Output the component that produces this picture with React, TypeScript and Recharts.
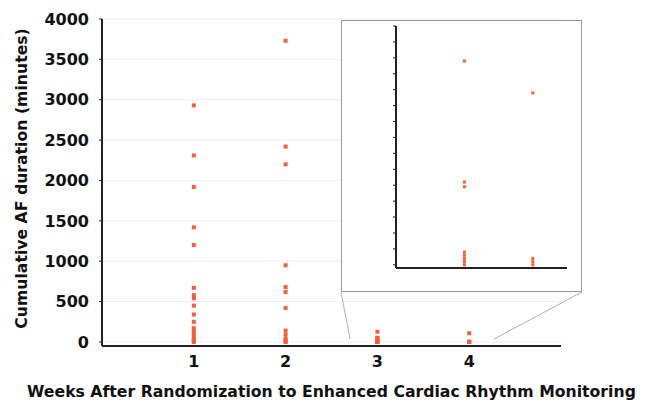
import { ScatterChart, Scatter, XAxis, YAxis, CartesianGrid, Label } from 'recharts';

// cumulative AF minutes per patient
const weeks = [1, 2, 3, 4];
const week1 = [2930, 2310, 1920, 1420, 1200, 670, 580, 540, 450, 340, 250, 170, 130, 100, 60, 30, 10, 0];
const week2 = [3730, 2420, 2200, 950, 680, 620, 420, 140, 90, 40, 10, 0];
const week3 = [128, 52, 49, 8, 6, 4, 2, 0];
const week4 = [108, 4, 2, 0];

const yTicks = [0, 500, 1000, 1500, 2000, 2500, 3000, 3500, 4000];
const insetTicks = [0, 10, 20, 30, 40, 50, 60, 70, 80, 90, 100, 110, 120, 130, 140, 150];

const byWeek = [week1, week2, week3, week4];
const points = weeks.flatMap((w, i) => byWeek[i].map((v) => ({ week: w, minutes: v })));
const insetPoints = points.filter((p) => p.week >= 3);

const DOT = '#F0603C';
const FONT = '"DejaVu Sans", sans-serif';

const Square = (props: any) => {
  const { cx, cy } = props;
  return <rect x={cx - 2} y={cy - 2} width={4} height={4} fill={DOT} />;
};

const SmallSquare = (props: any) => {
  const { cx, cy } = props;
  return <rect x={cx - 1.5} y={cy - 1.5} width={3} height={3} fill={DOT} />;
};

const tickStyle = { fontSize: 16, fontWeight: 700, fill: '#111', fontFamily: FONT };
const titleStyle = { fontSize: 15.7, fontWeight: 700, fill: '#111', fontFamily: FONT };

export default function App() {
  return (
    <div style={{ position: 'absolute', left: 0, top: 0, width: 655, height: 413, background: '#fff' }}>
      <ScatterChart width={655} height={413} margin={{ top: 19, right: 94, bottom: 7, left: 0 }}>
        <CartesianGrid vertical={false} stroke="#eeeeee" />
        <XAxis
          type="number"
          dataKey="week"
          domain={[0, 5]}
          ticks={weeks}
          height={60}
          tickLine={false}
          tickSize={0}
          tickMargin={10}
          axisLine={{ stroke: '#222', strokeWidth: 2 }}
          tick={tickStyle}
        >
          <Label
            value="Weeks After Randomization to Enhanced Cardiac Rhythm Monitoring"
            position="insideBottom"
            offset={9}
            style={titleStyle}
          />
        </XAxis>
        <YAxis
          type="number"
          dataKey="minutes"
          domain={[-50, 4000]}
          ticks={yTicks}
          width={102}
          tickSize={3}
          tickMargin={10}
          tickLine={{ stroke: '#222' }}
          axisLine={{ stroke: '#222', strokeWidth: 2 }}
          tick={tickStyle}
        >
          <Label
            content={({ viewBox }: any) => (
              <text
                x={21}
                y={viewBox.y + viewBox.height / 2 - 4}
                transform={`rotate(-90, 21, ${viewBox.y + viewBox.height / 2 - 4})`}
                textAnchor="middle"
                dominantBaseline="central"
                style={titleStyle}
              >
                Cumulative AF duration (minutes)
              </text>
            )}
          />
        </YAxis>
        <Scatter data={points} shape={Square} isAnimationActive={false} />
      </ScatterChart>

      <svg width={655} height={413} style={{ position: 'absolute', left: 0, top: 0, pointerEvents: 'none' }}>
        <line x1={341} y1={292} x2={350} y2={339} stroke="#999" strokeWidth={0.8} />
        <line x1={582} y1={292} x2={494} y2={339} stroke="#999" strokeWidth={0.8} />
      </svg>

      <div
        style={{
          position: 'absolute',
          left: 341,
          top: 20,
          width: 241,
          height: 272,
          boxSizing: 'border-box',
          border: '1px solid #999',
          background: '#fff',
        }}
      >
        <ScatterChart width={239} height={270} margin={{ top: 5, right: 14, bottom: 13, left: 44 }}>
          <XAxis
            type="number"
            dataKey="week"
            domain={[2, 4.5]}
            height={10}
            tick={false}
            tickLine={false}
            axisLine={{ stroke: '#222', strokeWidth: 2 }}
          />
          <YAxis
            type="number"
            dataKey="minutes"
            domain={[-2, 150]}
            ticks={insetTicks}
            interval={0}
            width={10}
            tickSize={3}
            tick={() => <g />}
            tickLine={{ stroke: '#222' }}
            axisLine={{ stroke: '#222', strokeWidth: 2 }}
          />
          <Scatter data={insetPoints} shape={SmallSquare} isAnimationActive={false} />
        </ScatterChart>
      </div>
    </div>
  );
}
